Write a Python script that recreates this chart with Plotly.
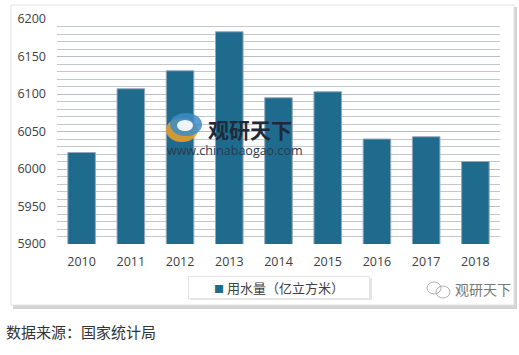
import plotly.graph_objects as go

years = ["2010", "2011", "2012", "2013", "2014", "2015", "2016", "2017", "2018"]
water_use = [6022, 6107, 6131, 6183, 6095, 6103, 6040, 6043, 6010]
series_name = "用水量（亿立方米）"
y_ticks = [5900, 5950, 6000, 6050, 6100, 6150, 6200]

W, H = 519, 355
L, R, T, B = 57, 19, 19, 111
pw, ph = W - L - R, H - T - B

def px(x):
    return (x - L) / pw

def py(y):
    return (H - B - y) / ph

bar_color = "#1f6b8e"

fig = go.Figure()
fig.add_trace(go.Bar(
    x=years, y=water_use, name=series_name,
    marker=dict(color=bar_color, line=dict(color="#95a8b9", width=1)),
    width=0.56, showlegend=False,
))

font = "Open Sans, Liberation Sans, Noto Sans CJK SC, sans-serif"
cjk = "Noto Sans CJK SC, sans-serif"

shapes = [
    dict(type="rect", xref="paper", yref="paper", layer="below",
         x0=px(13), x1=px(517), y0=py(309), y1=py(7),
         fillcolor="#d4d4d4", line=dict(width=0)),
    dict(type="rect", xref="paper", yref="paper", layer="below",
         x0=px(11), x1=px(514), y0=py(305), y1=py(5),
         fillcolor="#ffffff", line=dict(color="#e2e2e2", width=1)),
    dict(type="rect", xref="paper", yref="paper",
         x0=px(190), x1=px(372), y0=py(300), y1=py(278),
         fillcolor="#e4e4e4", line=dict(width=0)),
    dict(type="circle", xref="paper", yref="paper",
         x0=px(166), x1=px(198), y0=py(142), y1=py(118),
         fillcolor="rgba(240,160,40,0.85)", line=dict(width=0)),
    dict(type="circle", xref="paper", yref="paper",
         x0=px(170), x1=px(202), y0=py(136), y1=py(113),
         fillcolor="rgba(60,140,200,0.85)", line=dict(width=0)),
    dict(type="circle", xref="paper", yref="paper",
         x0=px(177), x1=px(193), y0=py(131), y1=py(120),
         fillcolor="rgba(255,255,255,0.9)", line=dict(width=0)),
    dict(type="circle", xref="paper", yref="paper",
         x0=px(427), x1=px(441), y0=py(294), y1=py(282),
         fillcolor="rgba(0,0,0,0)", line=dict(color="#b0b0b0", width=1)),
    dict(type="circle", xref="paper", yref="paper",
         x0=px(436), x1=px(450), y0=py(298), y1=py(286),
         fillcolor="rgba(0,0,0,0)", line=dict(color="#b0b0b0", width=1)),
]

annotations = [
    dict(text=f"<span style='color:{bar_color};font-size:10px'>■</span> {series_name}",
         xref="paper", yref="paper", x=px(279), y=py(287),
         xanchor="center", yanchor="middle", showarrow=False,
         bgcolor="#ffffff", bordercolor="#e6e6e6", borderwidth=1,
         borderpad=3, width=174, height=15,
         font=dict(family=cjk, size=13, color="#404040")),
    dict(text="<b>观研天下</b>", xref="paper", yref="paper",
         x=px(206), y=py(129), xanchor="left", yanchor="middle",
         showarrow=False, font=dict(family=cjk, size=21, color="#1e2a3a")),
    dict(text="www.chinabaogao.com", xref="paper", yref="paper",
         x=px(165), y=py(150), xanchor="left", yanchor="middle",
         showarrow=False, font=dict(family=font, size=12.5, color="#2a3a50")),
    dict(text="观研天下", xref="paper", yref="paper",
         x=px(453), y=py(289), xanchor="left", yanchor="middle",
         showarrow=False, font=dict(family=cjk, size=14, color="#777777")),
    dict(text="数据来源：国家统计局", xref="paper", yref="paper",
         x=px(4), y=py(331), xanchor="left", yanchor="middle",
         showarrow=False, font=dict(family=cjk, size=15, color="#333333")),
]

fig.update_layout(
    width=W, height=H,
    margin=dict(l=L, r=R, t=T, b=B, autoexpand=False),
    paper_bgcolor="#ffffff",
    plot_bgcolor="#e9f0f7",
    shapes=shapes,
    annotations=annotations,
    showlegend=False,
    xaxis=dict(showgrid=False, showline=False, ticks="",
               tickfont=dict(family=font, size=12.5, color="#404040"),
               ticklabelstandoff=8),
    yaxis=dict(range=[5900, 6200], tickvals=y_ticks, showline=False,
               gridcolor="#b9bec6", gridwidth=1, zeroline=False,
               minor=dict(dtick=10, showgrid=True, gridcolor="#c2c7cf", gridwidth=1),
               tickfont=dict(family=font, size=12.5, color="#404040"),
               ticklabelstandoff=10),
)

fig.write_html("out.html")
